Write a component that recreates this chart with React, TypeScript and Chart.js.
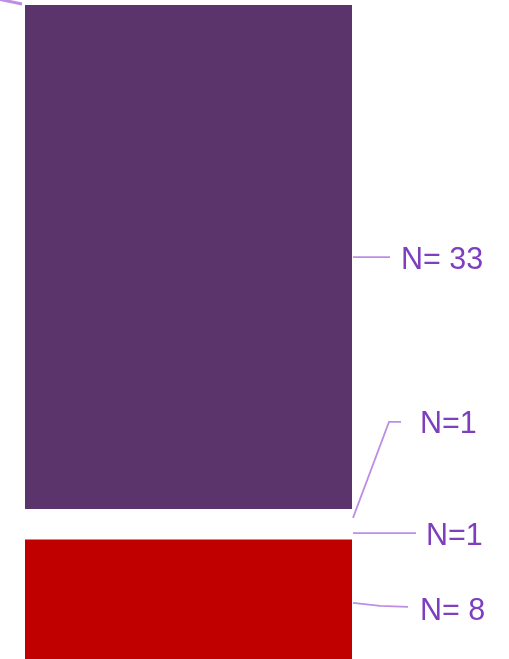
import React, { useEffect, useRef } from "react";
import { Chart, registerables } from "chart.js";

Chart.register(...registerables);

const categories = ["Group"];
const seriesNames = ["Red", "Gap A", "Gap B", "Purple"];
const seriesValues = [8, 1, 1, 33];
const seriesColors = ["#C00000", "#FFFFFF", "#FFFFFF", "#5C346C"];
const labelTexts = ["N= 8", "N=1", "N=1", "N= 33"];

// label layout: leader path points relative to (bar right edge, segment centre), text anchor
const labelLayout = [
  { path: [[1, 2], [28, 5], [56, 6]], text: [68, 11] },
  { path: [[1, 1], [64, 1]], text: [74, 4] },
  { path: [[1, 1], [37, -95], [49, -95]], text: [68, -92] },
  { path: [[1, 0], [38, 0]], text: [49, 3] },
];

const labelPlugin = {
  id: "leaderLabels",
  afterDatasetsDraw(chart: any) {
    const ctx = chart.ctx;
    const area = chart.chartArea;
    ctx.save();
    ctx.strokeStyle = "#BC8EE6";
    ctx.lineWidth = 1.8;
    ctx.fillStyle = "#7E3FBF";
    ctx.font = "30.5px 'Liberation Sans', Arial, sans-serif";
    ctx.textBaseline = "middle";
    ctx.textAlign = "left";
    chart.data.datasets.forEach((ds: any, i: number) => {
      const el = chart.getDatasetMeta(i).data[0];
      if (!el) return;
      const right = el.x + el.width / 2;
      const cy = (el.y + el.base) / 2;
      const lay = labelLayout[i];
      ctx.beginPath();
      lay.path.forEach((p: number[], k: number) => {
        if (k === 0) ctx.moveTo(right + p[0], cy + p[1]);
        else ctx.lineTo(right + p[0], cy + p[1]);
      });
      ctx.stroke();
      ctx.fillText(labelTexts[i], right + lay.text[0], cy + lay.text[1]);
    });
    // leader of an off-frame label at top-left
    ctx.lineWidth = 3;
    ctx.beginPath();
    ctx.moveTo(area.left - 27, area.top - 6);
    ctx.lineTo(area.left - 3, area.top - 1);
    ctx.stroke();
    ctx.restore();
  },
};

export default function App() {
  const ref = useRef<HTMLCanvasElement>(null);
  useEffect(() => {
    if (!ref.current) return;
    const chart = new Chart(ref.current, {
      type: "bar",
      data: {
        labels: categories,
        datasets: seriesValues.map((v, i) => ({
          label: seriesNames[i],
          data: [v],
          backgroundColor: seriesColors[i],
          borderWidth: 0,
          barPercentage: 1,
          categoryPercentage: 1,
        })),
      },
      options: {
        animation: false,
        responsive: false,
        maintainAspectRatio: false,
        layout: { padding: { left: 25, right: 157, top: 5, bottom: 0 } },
        plugins: { legend: { display: false }, tooltip: { enabled: false } },
        scales: {
          x: { stacked: true, display: false },
          y: { stacked: true, display: false, min: 0.2, max: 43 },
        },
      },
      plugins: [labelPlugin],
    });
    return () => chart.destroy();
  }, []);
  return (
    <div style={{ position: "fixed", left: 0, top: 0, width: 509, height: 659, background: "#fff" }}>
      <canvas ref={ref} width={509} height={659} />
    </div>
  );
}
